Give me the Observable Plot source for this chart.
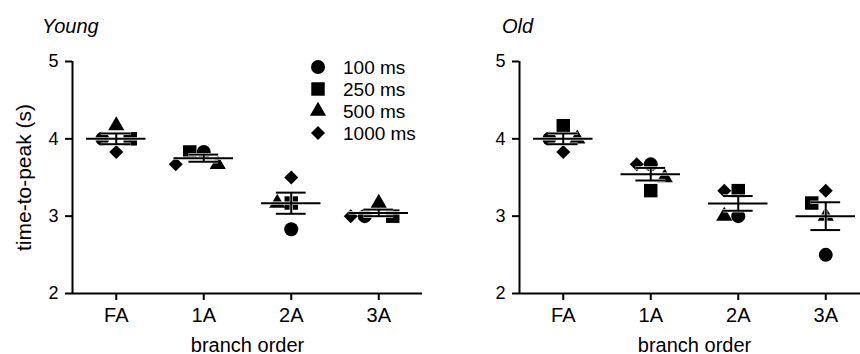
<!DOCTYPE html>
<html><head><meta charset="utf-8">
<script src="https://cdn.jsdelivr.net/npm/d3@7"></script>
<script src="https://cdn.jsdelivr.net/npm/@observablehq/plot@0.6"></script>
<style>
html,body{margin:0;padding:0;background:#fff;}
#wrap{position:relative;width:860px;height:354px;overflow:hidden;font-family:"Liberation Sans",Arial,sans-serif;color:#000;}
.panel{position:absolute;top:0;}
.title{position:absolute;top:16px;font-style:italic;font-size:20px;line-height:1;}
#legend{position:absolute;left:310px;top:56px;font-size:19px;line-height:1;}
.item{display:flex;align-items:center;height:22px;}
.item svg{margin-right:17px;overflow:visible;}
</style></head><body><div id="wrap"></div>
<script>
// ---- data ----
const categories = ["FA", "1A", "2A", "3A"];
const durations = ["100 ms", "250 ms", "500 ms", "1000 ms"];
const symbolNames = ["circle", "square", "triangle", "diamond2"];
const panelTitles = ["Young", "Old"];
const yTicks = [2, 3, 4, 5];
const xLabel = "branch order";
const yLabel = "time-to-peak (s)";

const young100  = [4.00, 3.83, 2.83, 3.00];
const young250  = [4.00, 3.83, 3.17, 3.00];
const young500  = [4.17, 3.67, 3.17, 3.17];
const young1000 = [3.83, 3.67, 3.50, 3.00];

const old100  = [4.00, 3.67, 3.00, 2.50];
const old250  = [4.17, 3.33, 3.33, 3.17];
const old500  = [4.00, 3.50, 3.00, 3.00];
const old1000 = [3.83, 3.67, 3.33, 3.33];

// ---- styling ----
const FONT = '"Liberation Sans", Arial, sans-serif';
const markerR = {circle: 7, square: 7.6, triangle: 6, diamond2: 6.3};
const d3Symbols = {circle: d3.symbolCircle, square: d3.symbolSquare, triangle: d3.symbolTriangle, diamond2: d3.symbolDiamond2};

function toRows(seriesList) {
  const rows = [];
  seriesList.forEach((vals, s) => vals.forEach((v, c) => rows.push({cat: categories[c], ci: c, s, value: v})));
  return rows;
}

// simple dodge: spread overlapping markers horizontally (slot units)
function arrange(rows) {
  const slot = 0.16, thr = 0.19;
  const cands = [0, -1, 1, -0.5, 0.5, -1.5, 1.5, -2, 2, -2.5, 2.5];
  const out = [];
  categories.forEach((cat, ci) => {
    const pts = rows.filter(r => r.ci === ci).sort((a, b) => b.value - a.value || a.s - b.s);
    const placed = [];
    for (const p of pts) {
      const off = cands.find(c => placed.every(q => (c - q.off) ** 2 + ((p.value - q.value) / thr) ** 2 >= 1 - 1e-6)) ?? 0;
      placed.push({...p, off, x: ci + off * slot});
    }
    out.push(...placed);
  });
  return out;
}

function panel(seriesList, {width, marginLeft, showYLabel}) {
  const rows = arrange(toRows(seriesList));
  const stats = categories.map((cat, i) => {
    const v = rows.filter(r => r.ci === i).map(r => r.value);
    const m = d3.mean(v), se = d3.deviation(v) / Math.sqrt(v.length);
    return {i, mean: m, lo: m - se, hi: m + se};
  });
  const lines = (stroke, sw) => [
    Plot.ruleX(stats, {x: "i", y1: "lo", y2: "hi", stroke, strokeWidth: sw}),
    Plot.ruleY(stats, {y: "lo", x1: d => d.i - 0.17, x2: d => d.i + 0.17, stroke, strokeWidth: sw}),
    Plot.ruleY(stats, {y: "hi", x1: d => d.i - 0.17, x2: d => d.i + 0.17, stroke, strokeWidth: sw}),
    Plot.ruleY(stats, {y: "mean", x1: d => d.i - 0.34, x2: d => d.i + 0.34, stroke, strokeWidth: sw})
  ];
  const dots = symbolNames.map((sym, s) =>
    Plot.dot(rows.filter(r => r.s === s), {x: "x", y: "value", symbol: () => sym, r: markerR[sym], fill: "black", stroke: "none"})
  );
  return Plot.plot({
    width, height: 354,
    marginLeft, marginRight: width - marginLeft - 350, marginTop: 61, marginBottom: 61,
    style: {fontFamily: FONT, fontSize: "20px", color: "black", background: "transparent", overflow: "visible"},
    x: {domain: [-0.5, 3.5]},
    y: {domain: [2, 5]},
    symbol: {type: "identity"},
    marks: [
      Plot.axisX({ticks: [0, 1, 2, 3], tickFormat: i => categories[i], tickSize: 7, tickPadding: 7, strokeWidth: 2,
        label: xLabel, labelAnchor: "center", labelOffset: 58, labelArrow: "none"}),
      Plot.axisY({ticks: yTicks, tickFormat: d3.format("d"), tickSize: 7, tickPadding: 7, strokeWidth: 2, fontSize: 18,
        label: null}),
      ...(showYLabel ? [Plot.axisY({ticks: [], tickSize: 0, fontSize: 21,
        label: yLabel, labelAnchor: "center", labelOffset: 56, labelArrow: "none"})] : []),
      Plot.ruleY([2], {strokeWidth: 2}),
      Plot.ruleX([-0.5], {strokeWidth: 2}),
      ...dots,
      ...lines("white", 3.2),
      ...lines("black", 2)
    ]
  });
}

const wrap = document.getElementById("wrap");
const left = panel([young100, young250, young500, young1000], {width: 430, marginLeft: 72, showYLabel: true});
left.classList.add("panel"); left.style.left = "0px";
const right = panel([old100, old250, old500, old1000], {width: 439, marginLeft: 89, showYLabel: false});
right.classList.add("panel"); right.style.left = "430px";
wrap.append(left, right);

[[panelTitles[0], 42], [panelTitles[1], 502]].forEach(([t, x]) => {
  const d = document.createElement("div");
  d.className = "title"; d.style.left = x + "px"; d.textContent = t;
  wrap.append(d);
});

// legend
const leg = document.createElement("div");
leg.id = "legend";
durations.forEach((name, s) => {
  const sym = symbolNames[s];
  const item = document.createElement("div");
  item.className = "item";
  const svg = d3.create("svg").attr("width", 16).attr("height", 16).attr("viewBox", "-8 -8 16 16");
  svg.append("path").attr("d", d3.symbol(d3Symbols[sym], Math.PI * markerR[sym] ** 2)()).attr("fill", "black");
  item.append(svg.node());
  const span = document.createElement("span");
  span.textContent = name;
  item.append(span);
  leg.append(item);
});
wrap.append(leg);
</script>
</body></html>
